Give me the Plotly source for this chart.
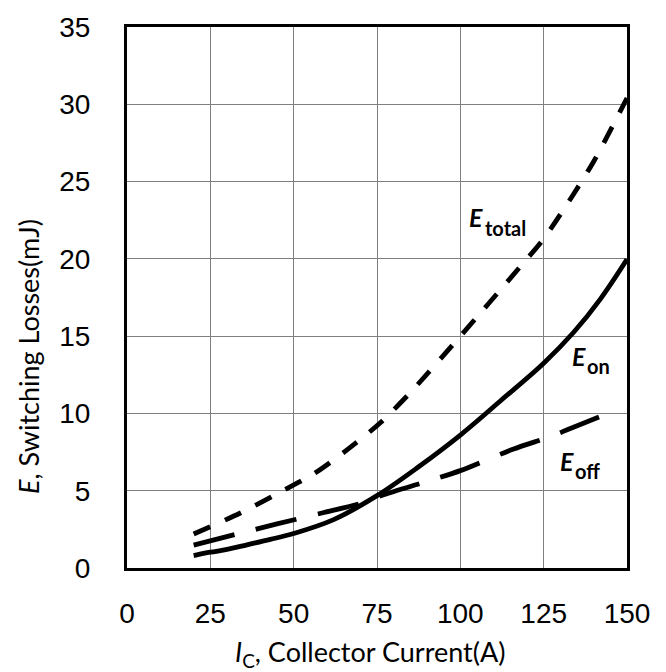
import plotly.graph_objects as go

# Data
x_on = [20, 25, 30, 36, 43, 50, 62, 75, 87.5, 100, 112.5, 125, 134, 142, 150]
e_on = [0.8, 1.02, 1.2, 1.5, 1.85, 2.23, 3.13, 4.68, 6.55, 8.6, 10.9, 13.25, 15.25, 17.4, 19.97]

x_off = [20, 32.5, 45, 58.5, 70.5, 77, 90, 100, 116, 127, 133, 145.5]
e_off = [1.48, 2.17, 2.85, 3.56, 4.2, 4.74, 5.6, 6.3, 7.7, 8.5, 9.03, 10.1]

x_tot = [20, 34, 45, 56, 66, 76, 85, 100, 118, 125, 134, 140, 150]
e_tot = [2.2, 3.56, 4.8, 6.09, 7.64, 9.4, 11.35, 15.0, 19.5, 21.3, 24.2, 26.3, 30.4]

x_ticks = [0, 25, 50, 75, 100, 125, 150]
y_ticks = [0, 5, 10, 15, 20, 25, 30, 35]

# label text: (subscript, E position x, E position y, subscript x, subscript y)
labels = [
    ("total", 102.0, 22.7, 106.8, 22.0),
    ("on", 132.9, 13.7, 137.4, 13.07),
    ("off", 129.4, 6.91, 133.9, 6.26),
]

fig = go.Figure()
fig.add_trace(go.Scatter(x=x_on, y=e_on, mode="lines",
                         line=dict(color="black", width=4.8, shape="spline", smoothing=1.0)))
fig.add_trace(go.Scatter(x=x_off, y=e_off, mode="lines",
                         line=dict(color="black", width=4.8, dash="42px,22px", shape="spline", smoothing=0.8)))
fig.add_trace(go.Scatter(x=x_tot, y=e_tot, mode="lines",
                         line=dict(color="black", width=4.8, dash="18px,16px", shape="spline", smoothing=0.8)))

for sub, ex, ey, sx, sy in labels:
    fig.add_annotation(x=ex, y=ey, xref="x", yref="y", text="<b><i>E</i></b>", showarrow=False,
                       xanchor="left", yanchor="middle",
                       font=dict(family="Lato", size=25, color="black"))
    fig.add_annotation(x=sx, y=sy, xref="x", yref="y", text="<b>%s</b>" % sub, showarrow=False,
                       xanchor="left", yanchor="middle",
                       font=dict(family="Lato", size=20, color="black"))

# Axis titles as annotations
fig.add_annotation(x=0.485, y=-0.158, xref="paper", yref="paper",
                   text="<i>I</i><sub>C</sub>, Collector Current(A)", showarrow=False,
                   xanchor="center", yanchor="middle",
                   font=dict(family="Lato", size=27, color="black"))
fig.add_annotation(x=-0.198, y=0.39, xref="paper", yref="paper",
                   text="<i>E</i>, Switching Losses(mJ)", showarrow=False, textangle=-90,
                   xanchor="center", yanchor="middle",
                   font=dict(family="Lato", size=27, color="black"))

axis_common = dict(showgrid=True, gridcolor="#808080", gridwidth=1,
                   showline=True, linecolor="black", linewidth=3, mirror=True,
                   zeroline=False, ticks="",
                   tickfont=dict(family="Liberation Sans, Arial", size=28, color="black"))

fig.update_xaxes(range=[0, 150], tickvals=x_ticks, ticklabelstandoff=18, **axis_common)
fig.update_yaxes(range=[0, 35], tickvals=y_ticks, ticklabelstandoff=28, **axis_common)

fig.update_layout(width=666, height=672, showlegend=False,
                  paper_bgcolor="white", plot_bgcolor="white",
                  margin=dict(l=127, r=39, t=24, b=104))

fig.write_html("out.html")
